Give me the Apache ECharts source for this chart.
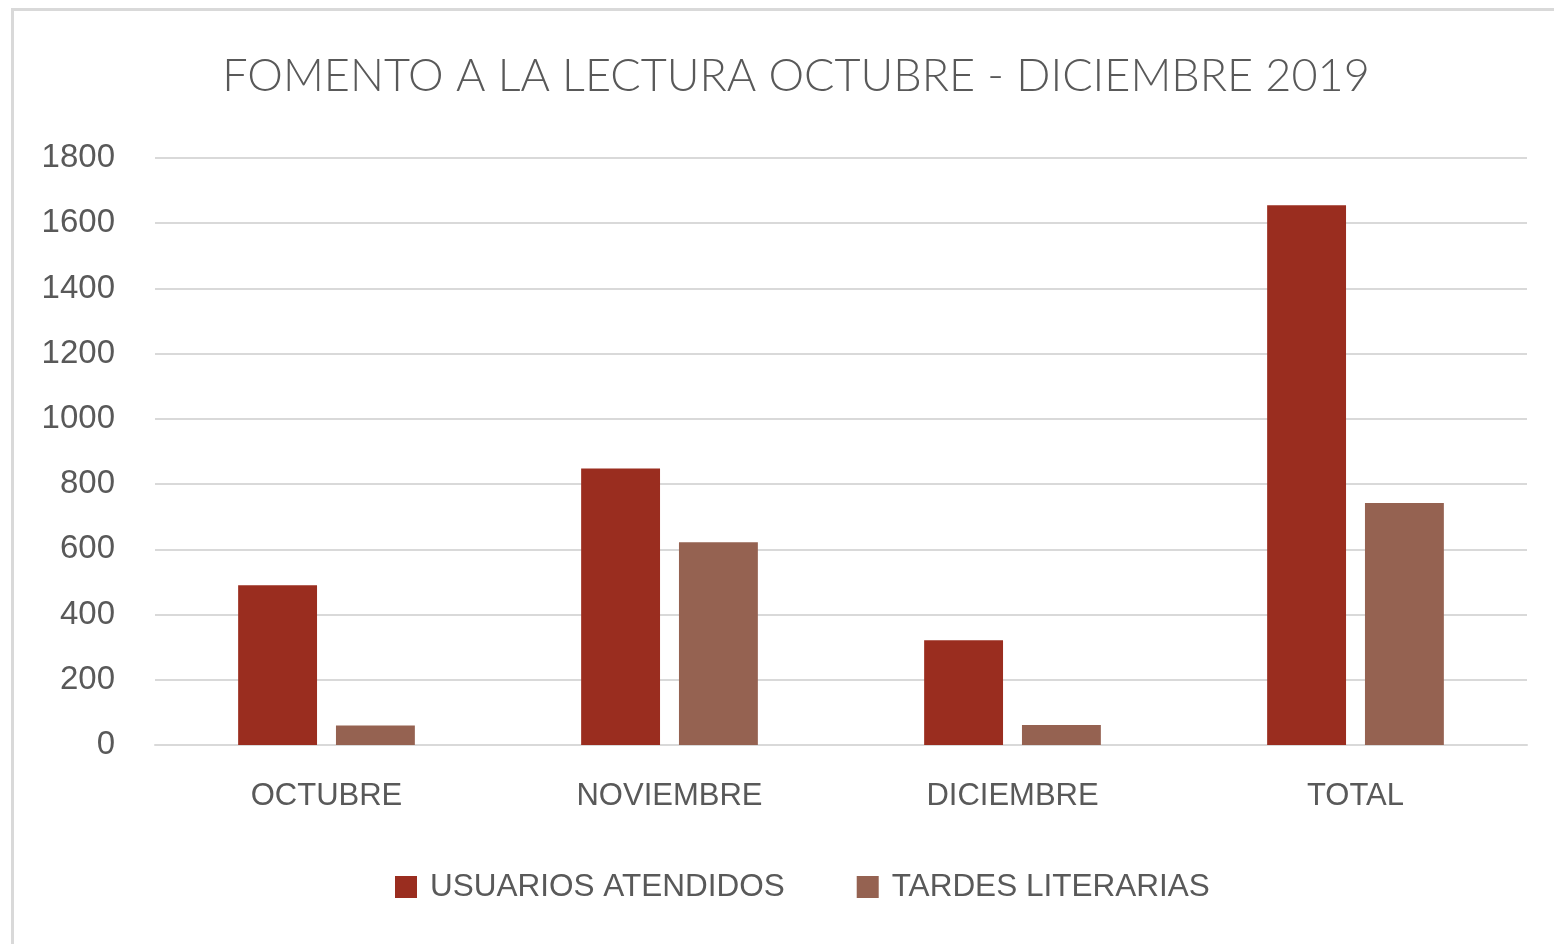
<!DOCTYPE html>
<html>
<head>
<meta charset="utf-8">
<script src="https://cdn.jsdelivr.net/npm/echarts@6/dist/echarts.min.js"></script>
<style>
  html, body { margin: 0; padding: 0; background: #fff; overflow: hidden; }
  #frame { position: absolute; left: 11px; top: 8px; width: 1600px; height: 1000px; border: 3px solid #d9d9d9; }
  #chart { position: absolute; left: 0; top: 0; width: 1554px; height: 944px; }
</style>
</head>
<body>
<div id="frame"></div>
<div id="chart"></div>
<script>
// datos del gráfico
var meses = ['OCTUBRE', 'NOVIEMBRE', 'DICIEMBRE', 'TOTAL'];
var usuariosAtendidos = [490, 848, 321, 1655];
var tardesLiterarias = [60, 622, 61, 742];
var nombresSeries = ['USUARIOS ATENDIDOS', 'TARDES LITERARIAS'];

var myChart = echarts.init(document.getElementById('chart'));

var option = {
  animation: false,
  color: ['#9a2d1f', '#956251'],
  title: {
    text: 'FOMENTO A LA LECTURA OCTUBRE - DICIEMBRE 2019',
    left: 791,
    top: 49,
    textAlign: 'center',
    textStyle: {
      fontFamily: 'Lato',
      fontWeight: 300,
      fontSize: 45,
      color: '#595959'
    }
  },
  legend: {
    data: nombresSeries,
    left: 395,
    top: 871,
    padding: 0,
    itemWidth: 22,
    itemHeight: 22,
    itemGap: 72,
    icon: 'rect',
    textStyle: {
      fontFamily: 'Liberation Sans',
      fontSize: 31.5,
      color: '#595959',
      padding: [0, 0, 0, 8]
    }
  },
  grid: {
    left: 155,
    right: 27,
    top: 158,
    bottom: 199,
    containLabel: false
  },
  xAxis: {
    type: 'category',
    data: meses,
    axisTick: { show: false },
    axisLine: { lineStyle: { color: '#d9d9d9', width: 2 } },
    axisLabel: {
      margin: 36,
      fontFamily: 'Liberation Sans',
      fontSize: 31,
      color: '#595959'
    }
  },
  yAxis: {
    type: 'value',
    min: 0,
    max: 1800,
    interval: 200,
    axisLine: { show: false },
    axisTick: { show: false },
    splitLine: { lineStyle: { color: '#d9d9d9', width: 2 } },
    axisLabel: {
      margin: 40,
      formatter: function (v) { return String(v); },
      fontFamily: 'Liberation Sans',
      fontSize: 33,
      color: '#595959'
    }
  },
  series: [
    {
      name: nombresSeries[0],
      type: 'bar',
      data: usuariosAtendidos,
      barWidth: '23%',
      barGap: '24%'
    },
    {
      name: nombresSeries[1],
      type: 'bar',
      data: tardesLiterarias,
      barWidth: '23%',
      barGap: '24%'
    }
  ]
};

myChart.setOption(option);
</script>
</body>
</html>
